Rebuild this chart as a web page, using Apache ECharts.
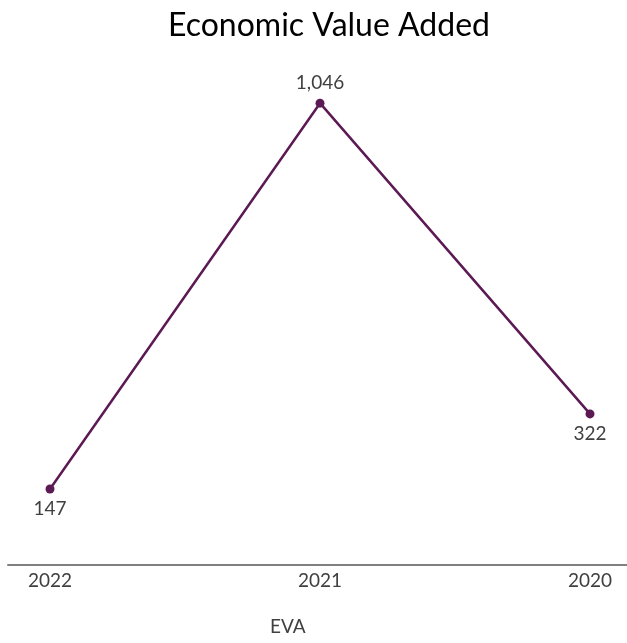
<!DOCTYPE html>
<html lang="en">
<head>
    <meta charset="UTF-8">
    <title>Economic Value Added</title>
    <script src="https://cdn.jsdelivr.net/npm/echarts@6/dist/echarts.min.js"></script>
    <style>
        html, body { margin: 0; padding: 0; background: #fff; }
        #chart { width: 627px; height: 643px; }
    </style>
</head>
<body>
<div id="chart"></div>
<script>
    // data
    var years = ['2022', '2021', '2020'];
    var eva = [147, 1046, 322];
    var labelPos = ['bottom', 'top', 'bottom'];

    var lineColor = '#5c1a55';
    var font = 'Lato, "Open Sans", sans-serif';

    var points = [];
    for (var i = 0; i < eva.length; i++) {
        points.push({ value: eva[i], label: { position: labelPos[i] } });
    }

    var myChart = echarts.init(document.getElementById('chart'));
    myChart.setOption({
        animation: false,
        title: {
            text: 'Economic Value Added',
            left: 163,
            top: 5,
            textStyle: { fontFamily: font, fontSize: 32, fontWeight: 'normal', color: '#000' }
        },
        legend: {
            data: ['EVA'],
            bottom: 2,
            left: 259,
            itemWidth: 0,
            itemHeight: 0,
            itemGap: 0,
            textStyle: { fontFamily: font, fontSize: 19, color: '#404040' }
        },
        grid: [
            // full-width grid only for the long axis line
            { left: 8, right: 0, top: 80, bottom: 78 },
            { left: 50, right: 37, top: 80, bottom: 78 }
        ],
        xAxis: [
            {
                gridIndex: 0, type: 'category', data: years,
                axisLine: { onZero: false, lineStyle: { color: '#808080', width: 2 } },
                axisTick: { show: false }, axisLabel: { show: false }
            },
            {
                gridIndex: 1, type: 'category', data: years, boundaryGap: false,
                axisLine: { show: false, onZero: false }, axisTick: { show: false },
                axisLabel: { fontFamily: font, fontSize: 19, color: '#404040', margin: 6 }
            }
        ],
        yAxis: [
            { gridIndex: 0, type: 'value', min: -30, max: 1100, show: false },
            { gridIndex: 1, type: 'value', min: -30, max: 1100, show: false }
        ],
        series: [{
            name: 'EVA',
            type: 'line',
            xAxisIndex: 1,
            yAxisIndex: 1,
            data: points,
            symbol: 'circle',
            symbolSize: 9,
            itemStyle: { color: lineColor },
            lineStyle: { color: lineColor, width: 2.5 },
            label: {
                show: true,
                distance: 6,
                fontFamily: font,
                fontSize: 19,
                color: '#404040',
                formatter: function (p) { return p.value.toLocaleString('en-US'); }
            }
        }]
    });
</script>
</body>
</html>
